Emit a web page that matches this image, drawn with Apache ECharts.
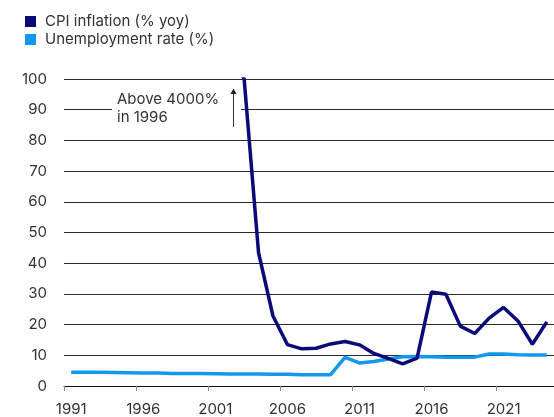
<!DOCTYPE html>
<html><head><meta charset="utf-8">
<script src="https://cdn.jsdelivr.net/npm/echarts@6/dist/echarts.min.js"></script>
<style>html,body{margin:0;padding:0;background:#fff}#c{width:554px;height:417px}</style>
</head><body><div id="c"></div>
<script>
var years = [];
for (var y = 1991; y <= 2024; y++) years.push(String(y));
// CPI inflation (% yoy); values above 100 are off the chart (1996 above 4000%)
var cpiInflation = [null, 299, 1380, 950, 2672, 4145, 219, 107, 248, 325, 153, 109,
  100, 43.4, 22.8, 13.5, 12.1, 12.3, 13.7, 14.5, 13.4, 10.6, 9.0, 7.2, 9.1,
  30.6, 29.9, 19.5, 17.1, 22.1, 25.6, 21.2, 13.6, 20.9];
var unemploymentRate = [4.5, 4.5, 4.5, 4.4, 4.3, 4.2, 4.2, 4.1, 4.1, 4.1, 4.0, 3.9,
  3.9, 3.9, 3.8, 3.8, 3.7, 3.7, 3.7, 9.3, 7.5, 8.0, 8.8, 9.5, 9.6,
  9.5, 9.4, 9.4, 9.4, 10.4, 10.4, 10.2, 10.1, 10.1];
var yTicks = {min: 0, max: 100, interval: 10};
var seriesNames = ['CPI inflation (% yoy)', 'Unemployment rate (%)'];
var FONT = 'Inter, "Noto Sans", sans-serif';

var chart = echarts.init(document.getElementById('c'), null, {renderer: 'canvas'});
chart.setOption({
  animation: false,
  backgroundColor: '#fff',
  textStyle: {fontFamily: FONT},
  legend: {
    left: 20, top: 8, orient: 'vertical', itemGap: 1,
    itemWidth: 11, itemHeight: 11, icon: 'rect',
    textStyle: {fontSize: 15, lineHeight: 17, color: '#333', fontFamily: FONT, padding: [0, 0, 0, 4]},
    data: seriesNames
  },
  grid: {left: 64, top: 79, width: 494, bottom: 30, containLabel: false},
  xAxis: {
    type: 'category', data: years, boundaryGap: true,
    axisLine: {lineStyle: {color: '#111', width: 1}},
    axisTick: {show: true, interval: 4, length: 5, lineStyle: {color: '#888'}},
    axisLabel: {interval: 4, fontSize: 15, color: '#333', margin: 16, fontFamily: FONT}
  },
  yAxis: {
    type: 'value', min: yTicks.min, max: yTicks.max, interval: yTicks.interval,
    axisLine: {show: false}, axisTick: {show: false},
    axisLabel: {fontSize: 15, color: '#333', margin: 17, fontFamily: FONT},
    splitLine: {lineStyle: {color: '#2a2a2a', width: 1}}
  },
  graphic: [
    {type: 'rect', shape: {x: 112, y: 87, width: 129, height: 42}, style: {fill: '#fff'}, z: 100},
    {type: 'text', x: 117, y: 90, z: 101,
      style: {text: 'Above 4000%\nin 1996', fontSize: 15, lineHeight: 18, fill: '#333', fontFamily: FONT}},
    {type: 'line', shape: {x1: 233.5, y1: 127, x2: 233.5, y2: 93}, style: {stroke: '#333', lineWidth: 1}, z: 101},
    {type: 'polygon', shape: {points: [[233.5, 88.5], [230.5, 94], [236.5, 94]]}, style: {fill: '#222'}, z: 101}
  ],
  series: [
    {name: seriesNames[0], type: 'line', data: cpiInflation, showSymbol: false, symbol: 'none',
      lineStyle: {color: '#0a0a78', width: 3.5}, itemStyle: {color: '#0a0a78'}, clip: true, z: 3},
    {name: seriesNames[1], type: 'line', data: unemploymentRate, showSymbol: false, symbol: 'none',
      lineStyle: {color: '#1398f0', width: 3.5}, itemStyle: {color: '#1398f0'}, clip: true, z: 2}
  ]
});
</script></body></html>
